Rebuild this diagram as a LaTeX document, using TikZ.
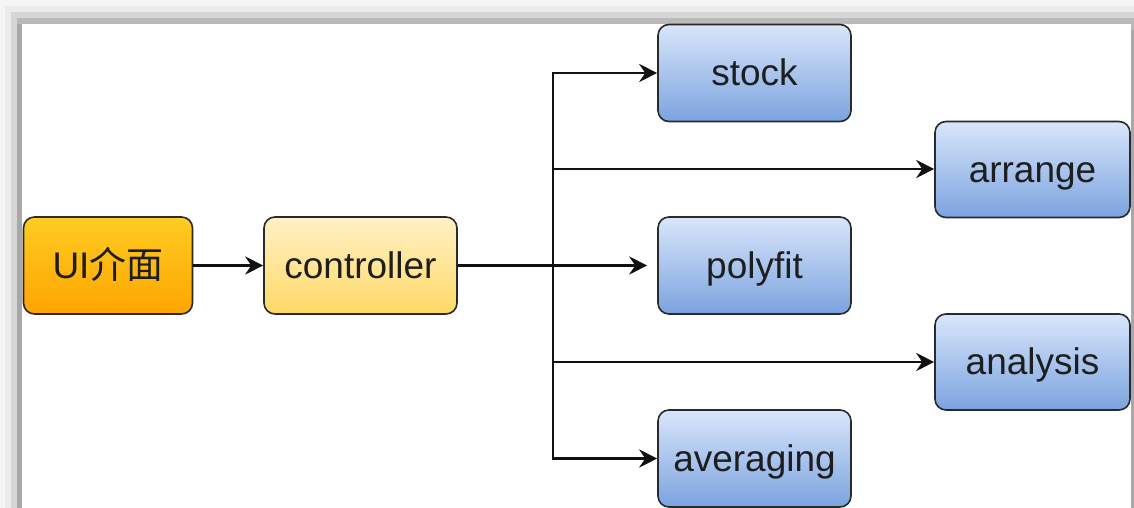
\documentclass[tikz,border=0pt]{standalone}
\usepackage{fontspec}
\setmainfont{Liberation Sans}
\newfontfamily\cjk{Noto Sans CJK TC}
\usetikzlibrary{arrows.meta}

\definecolor{uiTop}{HTML}{FFCB24}
\definecolor{uiBot}{HTML}{FFA500}
\definecolor{ctTop}{HTML}{FFF1C6}
\definecolor{ctBot}{HTML}{FFD966}
\definecolor{blTop}{HTML}{D8E6FB}
\definecolor{blBot}{HTML}{7BA3DF}
\definecolor{edge}{HTML}{2A2A2A}
\definecolor{ink}{HTML}{1E1E1E}
\definecolor{wire}{HTML}{111111}

\tikzset{
  box/.style={draw=edge, line width=1.6pt, rounded corners=11pt,
    minimum width=193pt, minimum height=97pt, inner sep=0pt,
    text height=25pt, text depth=0pt,
    text=ink, font=\fontsize{37}{44}\selectfont},
  uibox/.style={box, top color=uiTop, bottom color=uiBot, minimum width=169pt},
  ctbox/.style={box, top color=ctTop, bottom color=ctBot},
  blbox/.style={box, top color=blTop, bottom color=blBot},
  wide/.style={minimum width=195pt, minimum height=96pt},
  link/.style={draw=wire, line width=2.2pt,
    -{Stealth[length=18pt,width=18pt,inset=6pt]}}
}

\begin{document}
\begin{tikzpicture}[x=1pt,y=-1pt]
  \useasboundingbox (0,0) rectangle (1134,508);

  % soft frame shadow along the top and sides
  \fill[black!4]  (0,0) rectangle (1134,508);
  \fill[black!8]  (5,6) rectangle (1134,508);
  \fill[black!16] (11,12) rectangle (1134,508);
  \fill[black!27] (17,18) rectangle (1134,508);
  \fill[black!34] (17,24) rectangle (22,508);
  \fill[black!34] (1131,30) rectangle (1134,508);
  \fill[white]    (22,24) rectangle (1131,508);

  % nodes
  \node[uibox] (ui)   at (108,265.5)   {UI{\cjk 介面}};
  \node[ctbox] (ctrl) at (360.5,265.5) {controller};
  \node[blbox] (stock)     at (754.5,73)    {stock};
  \node[blbox,wide] (arrange)   at (1032.5,169.5) {arrange};
  \node[blbox] (polyfit)   at (754.5,265.5) {polyfit};
  \node[blbox,wide] (analysis)  at (1032.5,362)   {analysis};
  \node[blbox] (averaging) at (754.5,458.5) {averaging};

  % connectors
  \coordinate (j) at (553,266);
  \draw[link] (ui.east) -- (ctrl.west);
  \draw[link, shorten >=10pt] (ctrl.east) -- (polyfit.west);
  \draw[link] (j) |- (stock.west);
  \draw[link] (j) |- ([yshift=0.5pt]arrange.west);
  \draw[link] (j) |- (analysis.west);
  \draw[link] (j) |- (averaging.west);
\end{tikzpicture}
\end{document}
